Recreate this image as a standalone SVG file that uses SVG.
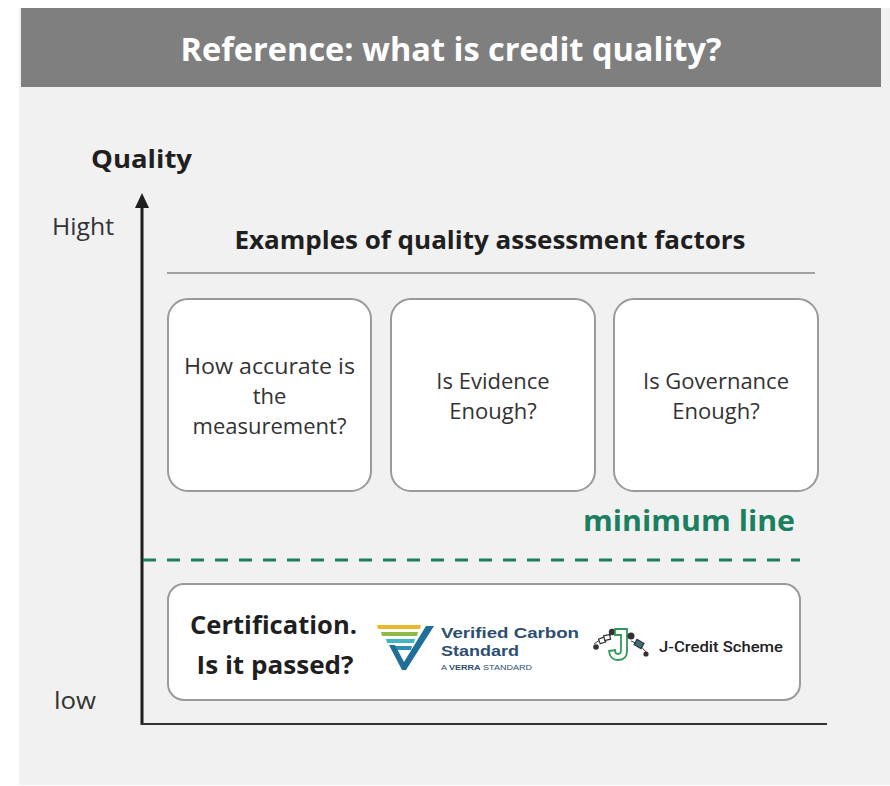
<svg xmlns="http://www.w3.org/2000/svg" width="890" height="786" viewBox="0 0 890 786">
<defs>
<style>
.t{font-family:"Open Sans","DejaVu Sans",sans-serif;fill:#333333}
.b{font-weight:bold;fill:#1f1f1f}
.box{fill:#ffffff;stroke:#9a9a9a;stroke-width:2}
.lbl{font-size:22px;text-anchor:middle}
.vcs{font-family:"Liberation Sans",Arial,sans-serif;fill:#2c4f70;font-weight:bold}
</style>
</defs>
<rect x="0" y="0" width="890" height="786" fill="#ffffff"/>
<rect x="19" y="8" width="871" height="777" fill="#f1f1f1"/>
<g id="header">
<rect x="21" y="8" width="860" height="79" fill="#7f7f7f"/>
<text x="451" y="61" class="t" font-size="32" font-weight="bold" style="fill:#ffffff" text-anchor="middle" textLength="541" lengthAdjust="spacingAndGlyphs">Reference: what is credit quality?</text>
</g>
<g id="axis">
<text x="91" y="168" class="t b" font-size="25" textLength="101" lengthAdjust="spacingAndGlyphs">Quality</text>
<text x="52" y="235" class="t" font-size="23" textLength="62" lengthAdjust="spacingAndGlyphs">Hight</text>
<text x="54" y="709" class="t" font-size="23" textLength="42" lengthAdjust="spacingAndGlyphs">low</text>
<line x1="142" y1="725" x2="142" y2="204" stroke="#1f1f1f" stroke-width="3"/>
<path d="M142,193 L149,208 L135,208 Z" fill="#1f1f1f"/>
<line x1="141" y1="724" x2="827" y2="724" stroke="#333333" stroke-width="2"/>
</g>
<g id="factors-title">
<text x="490" y="249" class="t b" font-size="25" text-anchor="middle" textLength="511" lengthAdjust="spacingAndGlyphs">Examples of quality assessment factors</text>
<line x1="167" y1="273" x2="815" y2="273" stroke="#555555" stroke-width="1.2"/>
</g>
<g id="node-accuracy">
<rect x="168" y="299" width="203" height="192" rx="20" class="box"/>
<text class="t lbl" x="269.5" y="374" textLength="171" lengthAdjust="spacingAndGlyphs">How accurate is</text>
<text class="t lbl" x="269.5" y="404">the</text>
<text class="t lbl" x="269.5" y="434">measurement?</text>
</g>
<g id="node-evidence">
<rect x="391" y="299" width="204" height="192" rx="20" class="box"/>
<text class="t lbl" x="493" y="389">Is Evidence</text>
<text class="t lbl" x="493" y="419">Enough?</text>
</g>
<g id="node-governance">
<rect x="614" y="299" width="204" height="192" rx="20" class="box"/>
<text class="t lbl" x="716" y="389">Is Governance</text>
<text class="t lbl" x="716" y="419">Enough?</text>
</g>
<g id="minimum-line">
<text x="795" y="531" class="t" font-size="28" font-weight="bold" style="fill:#1b8060" text-anchor="end" textLength="212" lengthAdjust="spacingAndGlyphs">minimum line</text>
<line x1="143" y1="560" x2="800" y2="560" stroke="#1b8060" stroke-width="3" stroke-dasharray="13 11"/>
</g>
<g id="node-certification">
<rect x="168" y="584" width="632" height="116" rx="16" class="box"/>
<text x="273.5" y="634" class="t b" font-size="25" text-anchor="middle" textLength="167" lengthAdjust="spacingAndGlyphs">Certification.</text>
<text x="275" y="674" class="t b" font-size="25" text-anchor="middle" textLength="157" lengthAdjust="spacingAndGlyphs">Is it passed?</text>
<g id="vcs-logo">
<path d="M377,625 L421,625 L420,629 L378,629 Z" fill="#e8b92c"/>
<path d="M381,632 L418,632 L417,636 L382,636 Z" fill="#8dbb45"/>
<path d="M386,639 L415,639 L414,643 L387,643 Z" fill="#3fb6c4"/>
<path d="M391,646 L412,646 L411,650 L392,650 Z" fill="#2f8fb8"/>
<path d="M389,645 L395,645 L404,662 L426,626 L434,626 L406,670 L402,670 Z" fill="#1f6f99"/>
<text x="441" y="638" class="vcs" font-size="14.5" textLength="138" lengthAdjust="spacingAndGlyphs">Verified Carbon</text>
<text x="441" y="656" class="vcs" font-size="14.5" textLength="78" lengthAdjust="spacingAndGlyphs">Standard</text>
<text x="441" y="670" class="vcs" font-size="7" style="font-weight:normal" textLength="91" lengthAdjust="spacingAndGlyphs">A <tspan style="font-weight:bold">VERRA</tspan> STANDARD</text>
</g>
<g id="jcredit-logo">
<path d="M594,644 Q602,637 611,635" fill="none" stroke="#333" stroke-width="1"/>
<rect x="599" y="638" width="6" height="5" fill="#ffffff" stroke="#333" stroke-width="1.2" transform="rotate(-20 602 640)"/>
<rect x="604" y="635" width="6" height="5" fill="#ffffff" stroke="#333" stroke-width="1.2" transform="rotate(-12 607 637)"/>
<circle cx="596" cy="647" r="2.8" fill="#333"/>
<circle cx="612" cy="632" r="3.2" fill="#333"/>
<path d="M615,629 L627,629 L627,651 Q627,660 618,660 Q610,660 609,651 L615,650 Q615,654 618,654 Q621,654 621,650 L621,635 L615,635 Z" fill="#ffffff" stroke="#2e9a55" stroke-width="1.8"/>
<circle cx="631" cy="636" r="3.5" fill="#333"/>
<path d="M631,641 Q640,644 646,652" fill="none" stroke="#333" stroke-width="1"/>
<rect x="635" y="641" width="8" height="6" fill="#3b6f7a" stroke="#333" stroke-width="1.2" transform="rotate(30 639 644)"/>
<circle cx="646" cy="654" r="2.6" fill="#333"/>
<text x="659" y="652" font-family="Roboto,'Liberation Sans',sans-serif" font-size="15.5" font-weight="500" fill="#222222" textLength="124" lengthAdjust="spacingAndGlyphs">J-Credit Scheme</text>
</g>
</g>
</svg>
